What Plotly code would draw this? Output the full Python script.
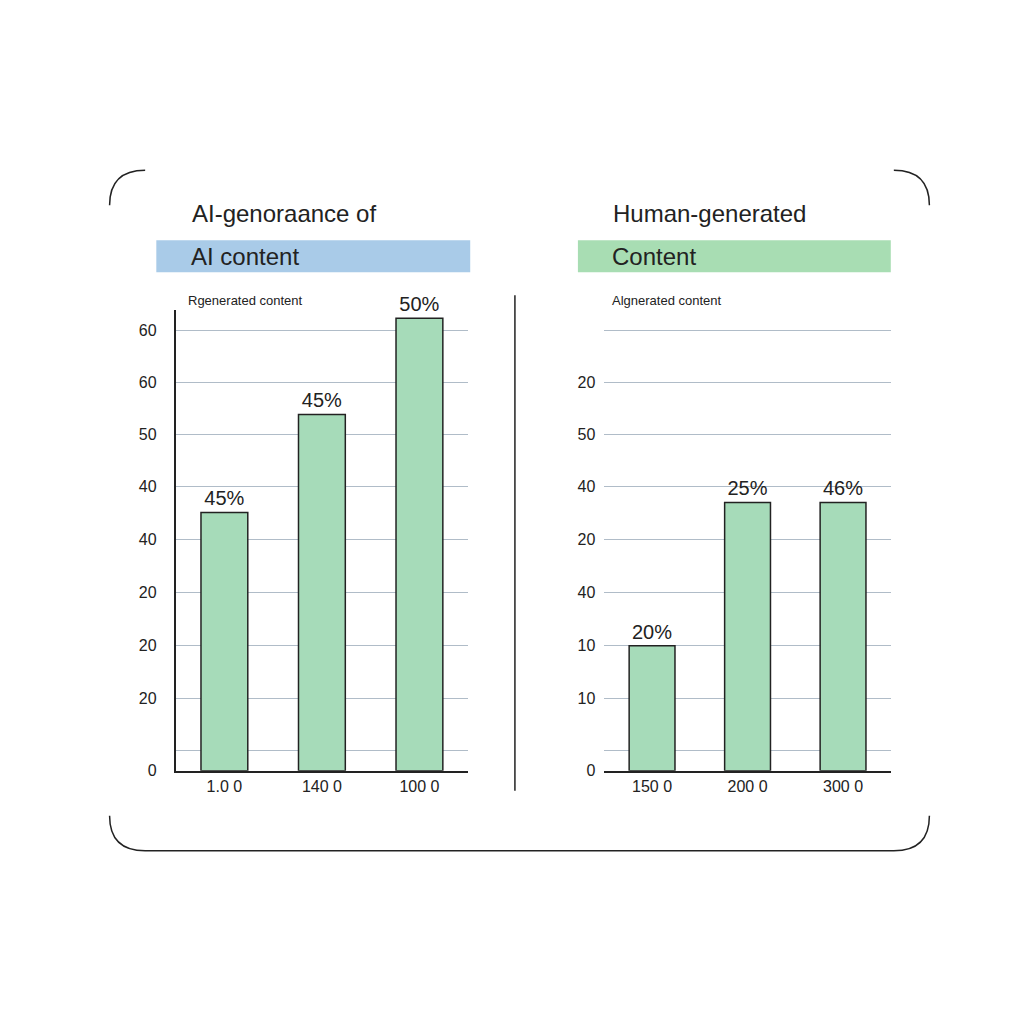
import plotly.graph_objects as go

W = H = 1024
left_cats = ["1.0 0", "140 0", "100 0"]
left_vals = [258, 356, 452]
left_labels = ["45%", "45%", "50%"]
right_cats = ["150 0", "200 0", "300 0"]
right_vals = [125, 268, 268]
right_labels = ["20%", "25%", "46%"]
tick_vals = [0, 20, 72, 125, 178, 231, 284, 336, 388, 440]
left_ticks = ["0", "", "20", "20", "20", "40", "40", "50", "60", "60"]
right_ticks = ["0", "", "10", "10", "40", "20", "40", "50", "20", ""]

def px(x): return (x - 8) / (W - 16)
def py(y): return 1 - (y - 3) / (H - 10)

BAR = "#a6dbb9"
FONT = "Liberation Sans"
fig = go.Figure()
fig.add_trace(go.Bar(x=left_cats, y=left_vals, text=left_labels, textposition="outside",
                     marker=dict(color=BAR, line=dict(color="#222", width=1.5)), width=0.48,
                     textfont=dict(size=20, color="#222"), cliponaxis=False, xaxis="x", yaxis="y"))
fig.add_trace(go.Bar(x=right_cats, y=right_vals, text=right_labels, textposition="outside",
                     marker=dict(color=BAR, line=dict(color="#222", width=1.5)), width=0.48,
                     textfont=dict(size=20, color="#222"), cliponaxis=False, xaxis="x2", yaxis="y2"))

ydom = [py(765), py(305)]
common_y = dict(range=[0, 460], tickvals=tick_vals, showgrid=True, gridcolor="#b0bcc8",
                gridwidth=1, zeroline=False, tickfont=dict(size=16, color="#222"), ticklen=0)
fig.update_layout(
    width=W, height=H, margin=dict(l=0, r=0, t=0, b=0), showlegend=False,
    paper_bgcolor="white", plot_bgcolor="white", font=dict(family=FONT),
    xaxis=dict(domain=[px(173), px(461)], showline=True, linecolor="#222", linewidth=1.5,
               tickfont=dict(size=16, color="#222"), ticklen=0),
    yaxis=dict(domain=ydom, ticktext=left_ticks, showline=True, linecolor="#222", linewidth=1.5,
               ticklabelstandoff=14, **common_y),
    xaxis2=dict(domain=[px(595), px(877)], anchor="y2", showline=True, linecolor="#222", linewidth=1.5,
                tickfont=dict(size=16, color="#222"), ticklen=0),
    yaxis2=dict(domain=ydom, anchor="x2", ticktext=right_ticks, showline=False,
                ticklabelstandoff=8, **common_y),
)

shapes = [
    dict(type="rect", xref="paper", yref="paper", x0=px(154), x1=px(463), y0=py(267), y1=py(235),
         fillcolor="#a9cbe8", line=dict(width=0), layer="below"),
    dict(type="rect", xref="paper", yref="paper", x0=px(569), x1=px(877), y0=py(267), y1=py(235),
         fillcolor="#a8ddb3", line=dict(width=0), layer="below"),
    dict(type="line", xref="paper", yref="paper", x0=px(507), x1=px(507), y0=py(290), y1=py(785),
         line=dict(color="#222", width=1.5)),
]
border = [
    f"M {px(108)} {py(200)} Q {px(108)} {py(165)} {px(143)} {py(165)}",
    f"M {px(880)} {py(165)} Q {px(915)} {py(165)} {px(915)} {py(200)}",
    f"M {px(108)} {py(810)} Q {px(108)} {py(845)} {px(143)} {py(845)} L {px(880)} {py(845)} Q {px(915)} {py(845)} {px(915)} {py(810)}",
]
for b in border:
    shapes.append(dict(type="path", xref="paper", yref="paper", path=b, line=dict(color="#222", width=1.5)))
fig.update_layout(shapes=shapes)

ann = [
    (187, 208, "AI-genoraance of", 24),
    (186, 251, "AI content", 24),
    (602, 208, "Human-generated", 24),
    (601, 251, "Content", 24),
    (183, 295, "Rgenerated content", 13),
    (601, 295, "Algnerated content", 13),
]
for x, y, t, s in ann:
    fig.add_annotation(x=px(x), y=py(y), xref="paper", yref="paper", text=t, showarrow=False,
                       xanchor="left", yanchor="middle", font=dict(size=s, color="#222"))
fig.write_html("out.html")
